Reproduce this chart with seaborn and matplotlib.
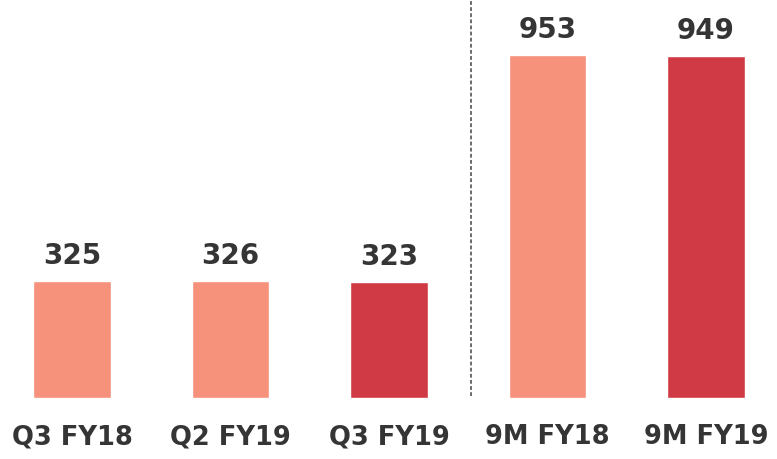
import matplotlib
matplotlib.use("Agg")
import matplotlib.pyplot as plt
import seaborn as sns
import pandas as pd

categories = ["Q3 FY18", "Q2 FY19", "Q3 FY19", "9M FY18", "9M FY19"]
values = [325, 326, 323, 953, 949]
bar_colors = ["#F6917B", "#F6917B", "#CF3A45", "#F6917B", "#CF3A45"]

df = pd.DataFrame({"period": categories, "value": values})

sns.set_theme(style="white")
plt.rcParams["font.family"] = ["DejaVu Sans"]

fig = plt.figure(figsize=(7.77, 4.59), dpi=100)
ax = fig.add_axes([0, 61 / 459, 1, 398 / 459])

sns.barplot(data=df, x="period", y="value", hue="period",
            palette=dict(zip(categories, bar_colors)), width=0.49,
            legend=False, ax=ax, saturation=1)

for i, v in enumerate(values):
    ax.text(i, v + 30, f"{v}", ha="center", va="bottom",
            fontsize=20, fontweight="bold", color="#353535")

ax.axvline(2.52, ymin=0.005, ymax=1, color="#444444",
           linestyle=(0, (2.5, 1.5)), linewidth=1.1)

ax.set_xlim(-0.454, 4.448)
ax.set_ylim(0, 1105)
ax.set_xlabel("")
ax.set_ylabel("")
ax.set_yticks([])
ax.tick_params(axis="x", length=0, pad=19)
for lbl in ax.get_xticklabels():
    lbl.set_fontsize(18.5)
    lbl.set_fontweight("bold")
    lbl.set_color("#353535")
for s in ax.spines.values():
    s.set_visible(False)
ax.patch.set_alpha(0)

fig.savefig("out.png", dpi=100, facecolor="white")
